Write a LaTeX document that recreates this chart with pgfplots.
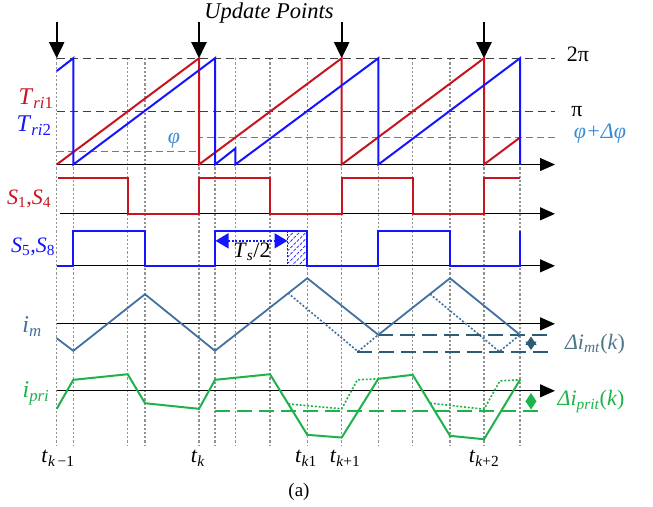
\documentclass[border=0pt]{standalone}
\usepackage{fontspec}
\setmainfont{Liberation Serif}
\usepackage{pgfplots}
\pgfplotsset{compat=1.18}
\usetikzlibrary{arrows.meta,patterns.meta}
\definecolor{cred}{RGB}{200,20,30}
\definecolor{cblue}{RGB}{20,20,255}
\definecolor{csteel}{RGB}{65,112,160}
\definecolor{cgreen}{RGB}{30,178,75}
\definecolor{clight}{RGB}{55,140,215}
\definecolor{cteal}{RGB}{45,92,115}
\definecolor{cgrid}{RGB}{145,145,145}
\newcommand\sub[1]{\textsubscript{#1}}
\begin{document}
\begin{tikzpicture}
\begin{axis}[scale only axis, width=653pt, height=505pt,
  xmin=0, xmax=653, ymin=-505, ymax=0, hide axis, clip=false,
  every axis plot/.append style={mark=none}]
\path (rel axis cs:0,0) rectangle (rel axis cs:1,1);
% grid lines
\pgfplotsset{gl/.style={cgrid, line width=1.25pt, dash pattern=on 2.2pt off 2pt}}
\addplot[gl] coordinates {(56.7,-56.7) (56.7,-444)};
\addplot[gl] coordinates {(73.3,-56.7) (73.3,-444)};
\addplot[gl] coordinates {(127.7,-56.7) (127.7,-444)};
\addplot[gl] coordinates {(145,-56.7) (145,-444)};
\addplot[gl] coordinates {(199,-56.7) (199,-444)};
\addplot[gl] coordinates {(215,-56.7) (215,-444)};
\addplot[gl] coordinates {(235.3,-56.7) (235.3,-444)};
\addplot[gl] coordinates {(270,-56.7) (270,-444)};
\addplot[gl] coordinates {(307.3,-56.7) (307.3,-444)};
\addplot[gl] coordinates {(341.7,-56.7) (341.7,-444)};
\addplot[gl] coordinates {(378.3,-56.7) (378.3,-444)};
\addplot[gl] coordinates {(412.7,-56.7) (412.7,-444)};
\addplot[gl] coordinates {(450,-56.7) (450,-444)};
\addplot[gl] coordinates {(484,-56.7) (484,-444)};
\addplot[gl] coordinates {(520,-56.7) (520,-444)};
% reference dashed levels
\addplot[black!75, line width=1.4pt, dash pattern=on 8pt off 5pt] coordinates {(56.7,-56.7) (555,-56.7)};
\addplot[black!75, line width=1.4pt, dash pattern=on 8pt off 5pt] coordinates {(56.7,-110) (555,-110)};
\addplot[clight, line width=1.3pt, dash pattern=on 7pt off 4pt] coordinates {(56.7,-150.3) (199,-150.3) (199,-136) (555,-136)};
% axes
\pgfplotsset{ax/.style={black, line width=1.2pt, -{Triangle[length=15pt,width=13pt]}}}
\addplot[ax] coordinates {(56.7,-163) (555,-163)};
\addplot[ax] coordinates {(60,-212.3) (555,-212.3)};
\addplot[ax] coordinates {(56.7,-264.3) (555,-264.3)};
\addplot[ax] coordinates {(56.7,-322.3) (555,-322.3)};
\addplot[ax] coordinates {(56.7,-389.3) (555,-389.3)};
% update arrows
\pgfplotsset{ua/.style={black, line width=2pt, -{Triangle[length=16pt,width=15pt]}}}
\addplot[ua] coordinates {(56.7,-20) (56.7,-56.7)};
\addplot[ua] coordinates {(199,-20) (199,-56.7)};
\addplot[ua] coordinates {(341.7,-20) (341.7,-56.7)};
\addplot[ua] coordinates {(484,-20) (484,-56.7)};
% carriers
\addplot[cred, line width=2pt] coordinates {(56.7,-163) (199,-56.7) (199,-163) (341.7,-56.7) (341.7,-163) (484,-56.7) (484,-163) (520,-136)};
\addplot[cblue, line width=2pt] coordinates {(56.7,-69.5) (73.3,-56.7) (73.3,-163) (215,-56.7) (215,-163) (235.3,-147) (235.3,-163) (378.3,-56.7) (378.3,-163) (520,-56.7) (520,-163)};
% gate signals
\addplot[cred, line width=2pt] coordinates {(58,-176.7) (127.7,-176.7) (127.7,-212.3) (199,-212.3) (199,-176.7) (270,-176.7) (270,-212.3) (341.7,-212.3) (341.7,-176.7) (412.7,-176.7) (412.7,-212.3) (484,-212.3) (484,-176.7) (520,-176.7)};
\addplot[pattern={Lines[angle=45,distance=4.5pt,line width=0.7pt]}, pattern color=cblue, draw=cblue, line width=1.2pt, dash pattern=on 2pt off 1.5pt] coordinates {(287.7,-229) (287.7,-264.3) (307.3,-264.3) (307.3,-229)} -- cycle;
\addplot[cblue, line width=2pt] coordinates {(56.7,-264.3) (73.3,-264.3) (73.3,-229) (145,-229) (145,-264.3) (215,-264.3) (215,-229) (307.3,-229) (307.3,-264.3) (378.3,-264.3) (378.3,-229) (450,-229) (450,-264.3) (520,-264.3) (520,-229)};
\addplot[cblue, line width=1.6pt, dash pattern=on 2pt off 1.5pt, {Triangle[length=13pt,width=15pt]}-{Triangle[length=13pt,width=15pt]}] coordinates {(215.5,-239.3) (287.5,-239.3)};
% magnetizing current
\addplot[csteel, line width=1.6pt, dash pattern=on 2pt off 1.8pt] coordinates {(288,-291.5) (358,-350) (378.3,-333.3)};
\addplot[csteel, line width=1.6pt, dash pattern=on 2pt off 1.8pt] coordinates {(430,-292.5) (499.3,-350) (520,-333.3)};
\addplot[cteal, line width=2pt, dash pattern=on 15pt off 7pt] coordinates {(378.3,-333.3) (551,-333.3)};
\addplot[cteal, line width=2pt, dash pattern=on 15pt off 7pt] coordinates {(357.3,-350) (551,-350)};
\addplot[csteel, line width=1.8pt] coordinates {(56.7,-336.7) (73.3,-349.3) (145,-292.7) (215,-349.3) (307.3,-276.7) (378.3,-333.3) (450,-276.7) (520,-333.3)};
\addplot[cteal, line width=1pt, {Triangle[length=8.5pt,width=11pt]}-{Triangle[length=8.5pt,width=11pt]}] coordinates {(531,-335) (531,-348.5)};
% primary current
\addplot[cgreen, line width=1.6pt, dash pattern=on 2pt off 1.8pt] coordinates {(288.3,-402.4) (341.7,-407.3) (357.3,-378.3) (378.3,-377.3)};
\addplot[cgreen, line width=1.6pt, dash pattern=on 2pt off 1.8pt] coordinates {(430,-401.6) (484,-407.7) (500,-379.3) (520,-378.3)};
\addplot[cgreen, line width=2.2pt, dash pattern=on 15pt off 7pt] coordinates {(215,-409.3) (545,-409.3)};
\addplot[cgreen, line width=2pt] coordinates {(56.7,-407.3) (73.3,-378.3) (127.7,-372.7) (145,-401.7) (199,-407.3) (215,-378.3) (270,-372.7) (307.3,-433.3) (341.7,-436) (378.3,-377.3) (412.7,-373.3) (450,-434.3) (484,-437.7) (520,-378.3)};
\addplot[cgreen, line width=1pt, {Triangle[length=8.5pt,width=11pt]}-{Triangle[length=8.5pt,width=11pt]}] coordinates {(531,-391.5) (531,-408)};
% labels
\node[font=\fontsize{22.5}{22.5}\selectfont\itshape] at (axis cs:269,-12) {Update Points};
\node[font=\fontsize{22}{22}\selectfont] at (axis cs:578,-53) {2π};
\node[font=\fontsize{22}{22}\selectfont] at (axis cs:577,-110) {π};
\node[font=\fontsize{22}{22}\selectfont\itshape, text=clight] at (axis cs:600,-132) {φ+Δφ};
\node[font=\fontsize{22}{22}\selectfont\itshape, text=clight] at (axis cs:174,-139) {φ};
\node[font=\fontsize{24}{24}\selectfont, text=cred] at (axis cs:36,-97) {\textit{T}\sub{\textit{ri}1}};
\node[font=\fontsize{24}{24}\selectfont, text=cblue] at (axis cs:34,-124) {\textit{T}\sub{\textit{ri}2}};
\node[font=\fontsize{22}{22}\selectfont, text=cred] at (axis cs:29,-197) {\textit{S}\sub{1},\textit{S}\sub{4}};
\node[font=\fontsize{22}{22}\selectfont, text=cblue] at (axis cs:33,-245) {\textit{S}\sub{5},\textit{S}\sub{8}};
\node[font=\fontsize{22}{22}\selectfont] at (axis cs:252,-250) {\textit{T}\sub{\textit{s}}/2};
\node[font=\fontsize{24}{24}\selectfont, text=csteel] at (axis cs:32,-325) {\textit{i}\sub{\textit{m}}};
\node[font=\fontsize{24}{24}\selectfont, text=cgreen] at (axis cs:36,-392) {\textit{i}\sub{\textit{pri}}};
\node[font=\fontsize{22}{22}\selectfont, text=cteal!85!white] at (axis cs:595,-343) {\textit{Δi}\sub{\textit{mt}}(\textit{k})};
\node[font=\fontsize{22}{22}\selectfont, text=cgreen] at (axis cs:591,-400) {\textit{Δi}\sub{\textit{prit}}(\textit{k})};
\node[font=\fontsize{22}{22}\selectfont] at (axis cs:58,-457) {\textit{t}\sub{\textit{k}\,−1}};
\node[font=\fontsize{22}{22}\selectfont] at (axis cs:198,-457) {\textit{t}\sub{\textit{k}}};
\node[font=\fontsize{22}{22}\selectfont] at (axis cs:306,-457) {\textit{t}\sub{\textit{k}1}};
\node[font=\fontsize{22}{22}\selectfont] at (axis cs:345,-457) {\textit{t}\sub{\textit{k}+1}};
\node[font=\fontsize{22}{22}\selectfont] at (axis cs:484,-457) {\textit{t}\sub{\textit{k}+2}};
\node[font=\fontsize{19}{19}\selectfont] at (axis cs:299,-490) {(a)};
\end{axis}
\end{tikzpicture}
\end{document}
